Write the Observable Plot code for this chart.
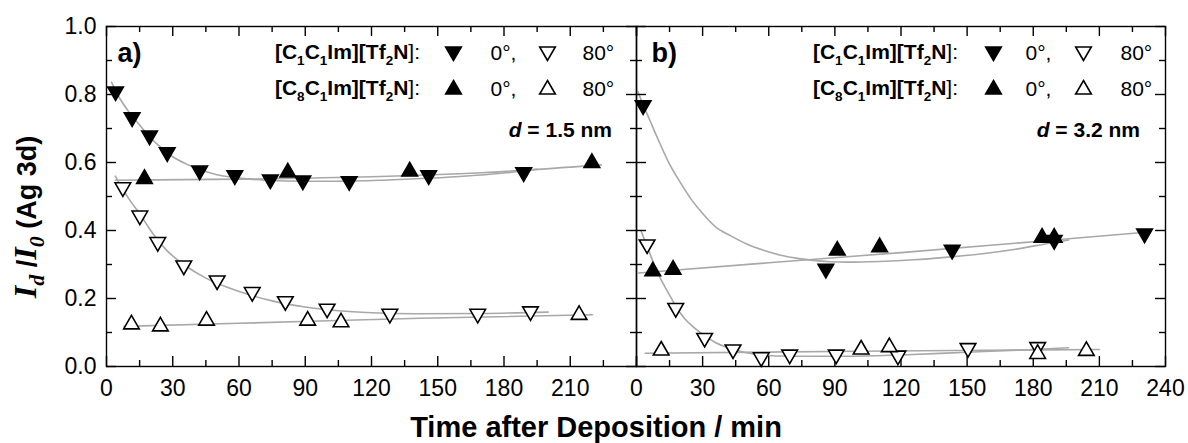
<!DOCTYPE html>
<html>
<head>
<meta charset="utf-8">
<script src="https://cdn.jsdelivr.net/npm/d3@7"></script>
<script src="https://cdn.jsdelivr.net/npm/@observablehq/plot@0.6"></script>
<style>
html, body { margin: 0; padding: 0; background: #fff; }
#wrap { position: relative; width: 1188px; height: 443px; overflow: hidden; font-family: "Liberation Sans", Arial, sans-serif; }
#wrap svg { position: absolute; top: 0; overflow: visible; background: transparent; }
</style>
</head>
<body>
<div id="wrap"></div>
<script>
// ---------------- data ----------------
// ticks
const xMajor = [0, 30, 60, 90, 120, 150, 180, 210, 240];
const xMinor = [15, 45, 75, 105, 135, 165, 195, 225];
const xLabelsA = [0, 30, 60, 90, 120, 150, 180, 210];
const xLabelsB = [0, 30, 60, 90, 120, 150, 180, 210, 240];
const yMajor = [0, 0.2, 0.4, 0.6, 0.8, 1.0];
const yMinor = [0.1, 0.3, 0.5, 0.7, 0.9];

// Panel a) d = 1.5 nm — measured points
const a_C1_0_t = [4.1, 11.6, 19.5, 27.5, 42.2, 58.1, 74.2, 88.9, 109.9, 145.9, 188.9];
const a_C1_0_v = [0.809, 0.733, 0.679, 0.630, 0.576, 0.562, 0.550, 0.547, 0.545, 0.562, 0.571];
const a_C8_0_t = [17.2, 82.1, 137.3, 219.8];
const a_C8_0_v = [0.552, 0.571, 0.574, 0.599];
const a_C1_80_t = [7.4, 15.1, 23.2, 35.0, 50.1, 66.0, 81.0, 99.9, 128.3, 168.1, 192.0];
const a_C1_80_v = [0.527, 0.444, 0.366, 0.297, 0.253, 0.219, 0.192, 0.170, 0.155, 0.155, 0.162];
const a_C8_80_t = [11.3, 24.4, 45.3, 91.1, 106.2, 214.0];
const a_C8_80_v = [0.124, 0.118, 0.135, 0.135, 0.130, 0.152];

// Panel a) fitted curves (read off the picture)
const a_fit_C1_0_t = [2.3, 5, 10, 15, 20, 25, 30, 36, 42, 50, 60, 72, 90, 105, 125, 140, 160, 180, 195];
const a_fit_C1_0_v = [0.836, 0.80, 0.75, 0.71, 0.672, 0.642, 0.617, 0.596, 0.58, 0.564, 0.554, 0.548, 0.545, 0.545, 0.548, 0.552, 0.559, 0.569, 0.58];
const a_fit_C8_0_t = [4, 60, 120, 170, 224];
const a_fit_C8_0_v = [0.548, 0.551, 0.558, 0.570, 0.593];
const a_fit_C1_80_t = [4, 7, 11, 15, 20, 27.5, 35, 45, 55, 65, 75, 90, 105, 120, 140, 170, 200];
const a_fit_C1_80_v = [0.56, 0.525, 0.485, 0.45, 0.40, 0.34, 0.30, 0.26, 0.232, 0.21, 0.193, 0.175, 0.164, 0.158, 0.155, 0.156, 0.16];
const a_fit_C8_80_t = [8, 60, 142, 220];
const a_fit_C8_80_v = [0.118, 0.127, 0.142, 0.152];

// Panel b) d = 3.2 nm — measured points
const b_C1_0_t = [3.0, 85.9, 143.2, 189.5, 230.5];
const b_C1_0_v = [0.768, 0.287, 0.343, 0.372, 0.391];
const b_C8_0_t = [7.4, 16.6, 91.1, 110.3, 184.0, 189.5];
const b_C8_0_v = [0.280, 0.285, 0.341, 0.351, 0.379, 0.379];
const b_C1_80_t = [4.8, 17.8, 30.9, 43.8, 56.6, 69.5, 90.6, 118.6, 150.4, 182.0];
const b_C1_80_v = [0.359, 0.172, 0.084, 0.050, 0.027, 0.035, 0.035, 0.032, 0.054, 0.057];
const b_C8_80_t = [11.2, 101.9, 114.7, 182.0, 204.1];
const b_C8_80_v = [0.047, 0.050, 0.057, 0.037, 0.046];

// Panel b) fitted curves
const b_fit_C1_0_t = [0.5, 3, 6, 10, 15, 20, 25, 30, 36, 42.6, 50, 58, 65, 73, 80, 88, 96, 110, 126, 140, 156, 172, 186, 196];
const b_fit_C1_0_v = [0.81, 0.77, 0.725, 0.665, 0.595, 0.54, 0.49, 0.45, 0.41, 0.385, 0.36, 0.341, 0.328, 0.318, 0.312, 0.308, 0.307, 0.309, 0.314, 0.321, 0.331, 0.345, 0.361, 0.372];
const b_fit_C8_0_t = [1, 60, 120, 180, 231];
const b_fit_C8_0_v = [0.275, 0.305, 0.335, 0.367, 0.395];
const b_fit_C1_80_t = [2, 5, 10, 15, 18, 22, 26, 31, 36, 44, 55, 70, 95, 120, 150, 180, 196];
const b_fit_C1_80_v = [0.40, 0.35, 0.27, 0.21, 0.175, 0.14, 0.115, 0.09, 0.07, 0.05, 0.035, 0.03, 0.03, 0.034, 0.042, 0.05, 0.055];
const b_fit_C8_80_t = [4, 100, 210];
const b_fit_C8_80_v = [0.039, 0.045, 0.05];

// ---------------- drawing ----------------
const LINE = "#a8a8a8";
const R = 5.8;
const FONT = "Liberation Sans, Arial, sans-serif";
const PH = 340, PW = 530;        // plot area size in px
const MAJ = 10, MIN = 6;         // inward tick lengths in px
const X0 = 0, X1 = 240, Y0 = 0, Y1 = 1;
const zip = (t, v) => t.map((x, i) => ({t: x, v: v[i]}));
// tick lengths expressed in scale units
const yLen = px => px / PH * (Y1 - Y0);
const xLen = px => px / PW * (X1 - X0);

function panel(cfg) {
  const marks = [];
  for (const f of cfg.fits) {
    marks.push(Plot.line(zip(f[0], f[1]), {x: "t", y: "v", stroke: LINE, strokeWidth: 1.6, curve: "monotone-x"}));
  }
  // frame & inward ticks
  marks.push(Plot.frame({stroke: "#000", strokeWidth: 1.4}));
  const tk = {stroke: "#000", strokeWidth: 1.4};
  marks.push(Plot.ruleX(xMajor, {x: d => d, y1: Y0, y2: Y0 + yLen(MAJ), ...tk}));
  marks.push(Plot.ruleX(xMinor, {x: d => d, y1: Y0, y2: Y0 + yLen(MIN), ...tk}));
  marks.push(Plot.ruleX(xMajor, {x: d => d, y1: Y1 - yLen(MAJ), y2: Y1, ...tk}));
  marks.push(Plot.ruleX(xMinor, {x: d => d, y1: Y1 - yLen(MIN), y2: Y1, ...tk}));
  marks.push(Plot.ruleY(yMajor, {y: d => d, x1: X0, x2: X0 + xLen(MAJ), ...tk}));
  marks.push(Plot.ruleY(yMinor, {y: d => d, x1: X0, x2: X0 + xLen(MIN), ...tk}));
  marks.push(Plot.ruleY(yMajor, {y: d => d, x1: X1 - xLen(MAJ), x2: X1, ...tk}));
  marks.push(Plot.ruleY(yMinor, {y: d => d, x1: X1 - xLen(MIN), x2: X1, ...tk}));
  // tick labels
  marks.push(Plot.axisX(cfg.xLabels, {anchor: "bottom", tickSize: 0, tickPadding: 13, fontSize: 23, label: null, tickFormat: d => String(d)}));
  if (cfg.yLabels) {
    marks.push(Plot.axisY(yMajor, {anchor: "left", tickSize: 0, tickPadding: 10, fontSize: 23, label: null, tickFormat: d => d.toFixed(1)}));
  }
  // data points
  for (const s of cfg.series) {
    marks.push(Plot.dot(zip(s.t, s.v), {
      x: "t", y: "v", symbol: "triangle", rotate: s.down ? 180 : 0, r: R,
      fill: s.filled ? "#000" : "#fff", stroke: "#000", strokeWidth: 1.6
    }));
  }
  // legend symbols & texts
  const rows = [26, 62];
  const legendSyms = [
    {row: 0, col: 0, down: true, filled: true},
    {row: 0, col: 1, down: true, filled: false},
    {row: 1, col: 0, down: false, filled: true},
    {row: 1, col: 1, down: false, filled: false}
  ];
  for (const l of legendSyms) {
    marks.push(Plot.dot([0], {
      x: null, y: null, frameAnchor: "top-left",
      dx: cfg.legSym[l.col], dy: rows[l.row] + (l.down ? -1 : 1),
      symbol: "triangle", rotate: l.down ? 180 : 0, r: R,
      fill: l.filled ? "#000" : "#fff", stroke: "#000", strokeWidth: 1.6
    }));
  }
  for (const row of rows) {
    marks.push(Plot.text(["0°,"], {x: null, y: null, text: d => d, frameAnchor: "top-left", lineAnchor: "middle", dx: cfg.legTxt[0], dy: row + 1, textAnchor: "start", fontSize: 21}));
    marks.push(Plot.text(["80°"], {x: null, y: null, text: d => d, frameAnchor: "top-left", lineAnchor: "middle", dx: cfg.legTxt[1], dy: row + 1, textAnchor: "start", fontSize: 21}));
  }
  marks.push(Plot.text([cfg.tag], {x: null, y: null, text: d => d, frameAnchor: "top-left", lineAnchor: "middle", dx: cfg.tagDx, dy: 27, textAnchor: "start", fontSize: 27, fontWeight: "bold"}));

  return Plot.plot({
    width: cfg.width, height: 443,
    marginLeft: cfg.marginLeft, marginRight: cfg.marginRight, marginTop: 26, marginBottom: 77,
    x: {domain: [X0, X1], axis: null},
    y: {domain: [Y0, Y1], axis: null},
    style: {fontFamily: FONT, fontSize: "20px", color: "#000", background: "transparent", overflow: "visible"},
    marks
  });
}

const panelA = panel({
  width: 636, marginLeft: 106, marginRight: 0,
  xLabels: xLabelsA, yLabels: true, tag: "a)", tagDx: 11,
  legSym: [347, 441], legTxt: [384, 476],
  fits: [[a_fit_C1_0_t, a_fit_C1_0_v], [a_fit_C8_0_t, a_fit_C8_0_v], [a_fit_C1_80_t, a_fit_C1_80_v], [a_fit_C8_80_t, a_fit_C8_80_v]],
  series: [
    {t: a_C1_0_t, v: a_C1_0_v, down: true, filled: true},
    {t: a_C8_0_t, v: a_C8_0_v, down: false, filled: true},
    {t: a_C1_80_t, v: a_C1_80_v, down: true, filled: false},
    {t: a_C8_80_t, v: a_C8_80_v, down: false, filled: false}
  ]
});
const panelB = panel({
  width: 552, marginLeft: 0, marginRight: 23,
  xLabels: xLabelsB, yLabels: false, tag: "b)", tagDx: 15,
  legSym: [357, 447], legTxt: [389, 484],
  fits: [[b_fit_C1_0_t, b_fit_C1_0_v], [b_fit_C8_0_t, b_fit_C8_0_v], [b_fit_C1_80_t, b_fit_C1_80_v], [b_fit_C8_80_t, b_fit_C8_80_v]],
  series: [
    {t: b_C1_0_t, v: b_C1_0_v, down: true, filled: true},
    {t: b_C8_0_t, v: b_C8_0_v, down: false, filled: true},
    {t: b_C1_80_t, v: b_C1_80_v, down: true, filled: false},
    {t: b_C8_80_t, v: b_C8_80_v, down: false, filled: false}
  ]
});

const wrap = document.getElementById("wrap");
panelA.style.left = "0px";
panelB.style.left = "636px";
wrap.appendChild(panelA);
wrap.appendChild(panelB);

// overlay with rich (sub/italic) text
const overlay = d3.create("svg").attr("width", 1188).attr("height", 443)
  .style("left", "0px").style("pointer-events", "none");
wrap.appendChild(overlay.node());

function rich(x, y, parts, {size = 21, anchor = "start", rotate = 0, family = FONT} = {}) {
  const t = overlay.append("text")
    .attr("transform", `translate(${x},${y})` + (rotate ? ` rotate(${rotate})` : ""))
    .attr("text-anchor", anchor).attr("font-family", family).attr("font-size", size).attr("fill", "#000");
  let shift = 0;
  for (const p of parts) {
    const s = t.append("tspan").text(p.t);
    if (p.b) s.attr("font-weight", "bold");
    if (p.i) s.attr("font-style", "italic");
    if (p.f) s.attr("font-family", p.f);
    if (p.s) s.attr("font-size", p.s);
    const target = p.sub ? size * 0.3 : 0;
    if (target - shift) s.attr("dy", target - shift);
    shift = target;
  }
}

const SUB = 13.5;
const labC1 = [{t: "[C", b: 1}, {t: "1", b: 1, sub: 1, s: SUB}, {t: "C", b: 1}, {t: "1", b: 1, sub: 1, s: SUB}, {t: "Im][Tf", b: 1}, {t: "2", b: 1, sub: 1, s: SUB}, {t: "N", b: 1}, {t: "]:"}];
const labC8 = [{t: "[C", b: 1}, {t: "8", b: 1, sub: 1, s: SUB}, {t: "C", b: 1}, {t: "1", b: 1, sub: 1, s: SUB}, {t: "Im][Tf", b: 1}, {t: "2", b: 1, sub: 1, s: SUB}, {t: "N", b: 1}, {t: "]:"}];

rich(420, 59, labC1, {anchor: "end"});
rich(420, 95, labC8, {anchor: "end"});
rich(958, 59, labC1, {anchor: "end"});
rich(958, 95, labC8, {anchor: "end"});

rich(612, 137, [{t: "d", b: 1, i: 1}, {t: " = 1.5 nm", b: 1}], {anchor: "end"});
rich(1140, 137, [{t: "d", b: 1, i: 1}, {t: " = 3.2 nm", b: 1}], {anchor: "end"});

// axis titles
rich(596, 437, [{t: "Time after Deposition / min", b: 1}], {anchor: "middle", size: 29});
const SERIF = "Liberation Serif, Times New Roman, serif";
rich(36, 217, [
  {t: "I", f: SERIF, b: 1, i: 1, s: 32},
  {t: "d", f: SERIF, b: 1, i: 1, s: 22, sub: 1},
  {t: " /", b: 1, s: 27},
  {t: "I", f: SERIF, b: 1, i: 1, s: 32},
  {t: "0", f: SERIF, b: 1, i: 1, s: 22, sub: 1},
  {t: " (Ag 3d)", b: 1, s: 27}
], {anchor: "middle", rotate: -90, size: 27});
</script>
</body>
</html>
